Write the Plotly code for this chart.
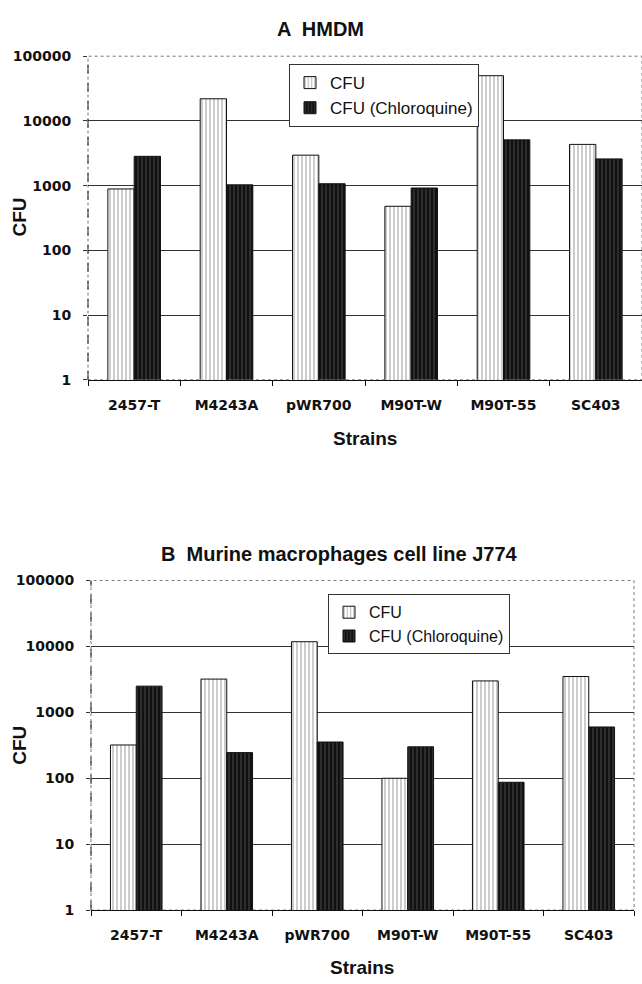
import plotly.graph_objects as go

strains = ["2457-T", "M4243A", "pWR700", "M90T-W", "M90T-55", "SC403"]
hmdm_cfu = [890, 22000, 2960, 480, 50000, 4340]
hmdm_chloro = [2840, 1030, 1070, 920, 5100, 2590]
j774_cfu = [320, 3200, 11800, 100, 3000, 3500]
j774_chloro = [2500, 245, 355, 300, 87, 600]
ytick_vals = [1, 10, 100, 1000, 10000, 100000]
ytick_text = ["1", "10", "100", "1000", "10000", "100000"]

W, H = 642, 984
TICKFONT = dict(family="DejaVu Sans", size=14, color="#111", weight="bold")
TITLEFONT = "Liberation Sans"

def px_x(v):
    return v / W

def px_y(v):
    return 1 - v / H

cfu_style = dict(color="white", line=dict(color="#111", width=1),
                 pattern=dict(shape="|", fgcolor="#555", bgcolor="white", size=4, solidity=0.3))
chl_style = dict(color="#111", line=dict(color="#111", width=1),
                 pattern=dict(shape="|", fgcolor="#999", bgcolor="#111", size=4, solidity=0.2))

fig = go.Figure()
fig.add_trace(go.Bar(x=strains, y=hmdm_cfu, name="CFU", marker=cfu_style,
                     xaxis="x", yaxis="y", legend="legend"))
fig.add_trace(go.Bar(x=strains, y=hmdm_chloro, name="CFU (Chloroquine)", marker=chl_style,
                     xaxis="x", yaxis="y", legend="legend"))
fig.add_trace(go.Bar(x=strains, y=j774_cfu, name="CFU", marker=cfu_style,
                     xaxis="x2", yaxis="y2", legend="legend2"))
fig.add_trace(go.Bar(x=strains, y=j774_chloro, name="CFU (Chloroquine)", marker=chl_style,
                     xaxis="x2", yaxis="y2", legend="legend2"))

panels = [
    dict(xd=[px_x(88), px_x(642)], yd=[px_y(378), px_y(49)]),
    dict(xd=[px_x(91), px_x(634)], yd=[px_y(917), px_y(582)]),
]

def xaxis_cfg(dom, anchor):
    return dict(domain=dom, anchor=anchor, type="category", showline=True, linecolor="#111",
                linewidth=1, ticks="outside", ticklen=5, tickcolor="#111", tickson="boundaries",
                tickfont=TICKFONT, ticklabelstandoff=12, showgrid=False, zeroline=False)

def yaxis_cfg(dom, anchor):
    return dict(domain=dom, anchor=anchor, type="log", range=[0, 5], tickvals=ytick_vals,
                ticktext=ytick_text, tickfont=TICKFONT, showgrid=True, gridcolor="#333",
                gridwidth=1, showline=False, ticks="outside", ticklen=4, tickcolor="#333",
                ticklabelstandoff=9, zeroline=False)

fig.update_layout(
    width=W, height=H, margin=dict(l=0, r=0, t=0, b=0),
    paper_bgcolor="white", plot_bgcolor="white",
    barmode="group", bargap=0.43, bargroupgap=0.0,
    xaxis=xaxis_cfg(panels[0]["xd"], "y"),
    yaxis=yaxis_cfg(panels[0]["yd"], "x"),
    xaxis2=xaxis_cfg(panels[1]["xd"], "y2"),
    yaxis2=yaxis_cfg(panels[1]["yd"], "x2"),
    legend=dict(x=px_x(289), y=px_y(57), xanchor="left", yanchor="top",
                bordercolor="#333", borderwidth=1, bgcolor="white",
                font=dict(family=TITLEFONT, size=17, color="#111")),
    legend2=dict(x=px_x(328), y=px_y(596), xanchor="left", yanchor="top",
                 bordercolor="#333", borderwidth=1, bgcolor="white",
                 font=dict(family=TITLEFONT, size=16, color="#111")),
    showlegend=True,
)

shapes = []
for i, p in enumerate(panels):
    sfx = "" if i == 0 else "2"
    shapes.append(dict(type="rect", xref=f"x{sfx} domain", yref=f"y{sfx} domain",
                       x0=0, x1=1, y0=0, y1=1, line=dict(color="#777", width=1, dash="dot"),
                       layer="below"))
    shapes.append(dict(type="line", xref=f"x{sfx} domain", yref=f"y{sfx} domain",
                       x0=0, x1=0, y0=0, y1=1, line=dict(color="#222", width=1, dash="dash"),
                       layer="below"))
fig.update_layout(shapes=shapes)

def ann(text, x, y, size, angle=0):
    return dict(text=text, x=px_x(x), y=px_y(y), xref="paper", yref="paper",
                xanchor="center", yanchor="middle", showarrow=False, textangle=angle,
                font=dict(family=TITLEFONT, size=size, color="#111"))

annotations = [
    ann("<b>A  HMDM</b>", 320, 21, 20),
    ann("<b>B  Murine macrophages cell line J774</b>", 339, 555, 20),
    ann("<b>Strains</b>", 365, 438, 19),
    ann("<b>Strains</b>", 362, 975, 19),
    ann("<b>CFU</b>", 20, 213, 19, -90),
    ann("<b>CFU</b>", 20, 750, 19, -90),
]
fig.update_layout(annotations=annotations)

fig.write_html("out.html")
